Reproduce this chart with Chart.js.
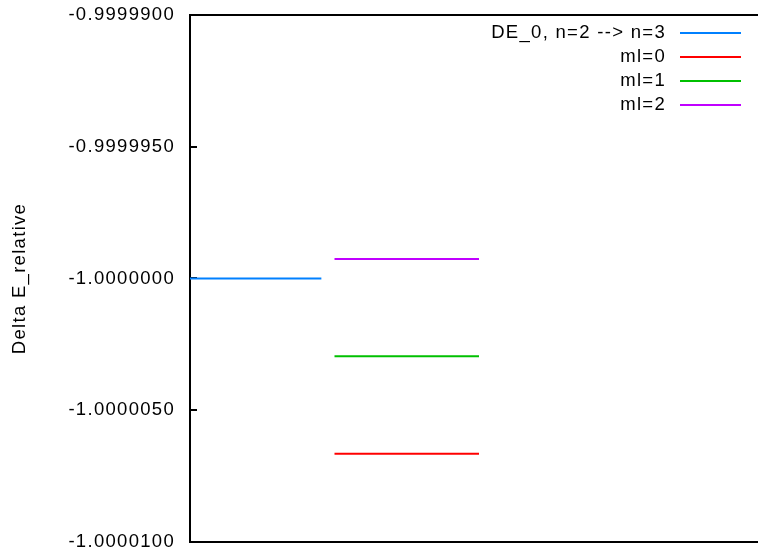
<!DOCTYPE html>
<html lang="en">
<head>
    <meta charset="UTF-8">
    <title>Delta E relative</title>
    <script src="https://cdn.jsdelivr.net/npm/chart.js"></script>
    <style>
        body { margin: 0; background: #fff; }
        #wrap { width: 758px; height: 555px; overflow: hidden; }
    </style>
</head>
<body>
    <div id="wrap">
        <canvas id="levels" width="770" height="555"></canvas>
    </div>

    <script>
        // tick values on the y axis
        var yTicks = [-1.00001, -1.000005, -1.0, -0.999995, -0.99999];

        // series: name, x span, level value
        var seriesNames = ['DE_0, n=2 --> n=3', 'ml=0', 'ml=1', 'ml=2'];
        var seriesStart = [0, 1.1, 1.1, 1.1];
        var seriesEnd = [1, 2.2, 2.2, 2.2];
        var seriesLevel = [-1.0, -1.00000665, -1.00000295, -0.99999926];
        var seriesColors = ['#0080ff', '#ff0000', '#00c000', '#c000ff'];

        var FONT = 'Liberation Sans';
        var SPACING = '1.3px';

        var datasets = seriesNames.map(function(name, i) {
            return {
                label: name,
                data: [
                    { x: seriesStart[i], y: seriesLevel[i] },
                    { x: seriesEnd[i], y: seriesLevel[i] }
                ],
                borderColor: seriesColors[i],
                borderWidth: 2,
                pointRadius: 0,
                tension: 0
            };
        });

        // canvas letter spacing, gnuplot text looks wider than plain Arial
        var spacingPlugin = {
            id: 'spacing',
            beforeUpdate: function(chart) { chart.ctx.letterSpacing = SPACING; },
            beforeLayout: function(chart) { chart.ctx.letterSpacing = SPACING; },
            beforeDraw: function(chart) { chart.ctx.letterSpacing = SPACING; }
        };

        // key in the top right corner, text right aligned, sample line after it
        var keyPlugin = {
            id: 'key',
            afterDraw: function(chart) {
                var ctx = chart.ctx;
                ctx.save();
                ctx.font = '18.5px "' + FONT + '"';
                ctx.letterSpacing = SPACING;
                ctx.textAlign = 'right';
                ctx.textBaseline = 'middle';
                chart.data.datasets.forEach(function(ds, i) {
                    var y = 33 + i * 24;
                    ctx.fillStyle = '#000';
                    ctx.fillText(ds.label, 666, y);
                    ctx.beginPath();
                    ctx.moveTo(680, y);
                    ctx.lineTo(741, y);
                    ctx.lineWidth = 2;
                    ctx.strokeStyle = ds.borderColor;
                    ctx.stroke();
                });
                ctx.restore();
            }
        };

        var ctx = document.getElementById('levels').getContext('2d');
        var chart = new Chart(ctx, {
            type: 'line',
            data: { datasets: datasets },
            options: {
                responsive: false,
                animation: false,
                layout: { padding: { left: 0, top: 15, right: 2, bottom: 13 } },
                plugins: {
                    legend: { display: false },
                    tooltip: { enabled: false }
                },
                scales: {
                    x: {
                        type: 'linear',
                        min: 0,
                        max: 4.4,
                        ticks: { display: false },
                        grid: { display: false, drawTicks: false },
                        border: { display: true, color: '#000', width: 2 }
                    },
                    x2: {
                        type: 'linear',
                        position: 'top',
                        min: 0,
                        max: 4.4,
                        ticks: { display: false },
                        grid: { display: false, drawTicks: false },
                        border: { display: true, color: '#000', width: 2 }
                    },
                    y: {
                        type: 'linear',
                        min: yTicks[0],
                        max: yTicks[yTicks.length - 1],
                        afterBuildTicks: function(scale) {
                            scale.ticks = yTicks.map(function(v) { return { value: v }; });
                        },
                        afterFit: function(scale) {
                            scale.width = 190;
                            scale.paddingTop = 0;
                            scale.paddingBottom = 0;
                        },
                        ticks: {
                            color: '#000',
                            padding: 22,
                            font: { family: FONT, size: 18.5 },
                            callback: function(v) { return Number(v).toFixed(7); }
                        },
                        grid: {
                            drawOnChartArea: false,
                            drawTicks: true,
                            tickLength: -7,
                            tickWidth: 2,
                            tickColor: '#000',
                            color: '#000',
                            lineWidth: 2
                        },
                        border: { display: true, color: '#000', width: 2 },
                        title: {
                            display: true,
                            text: 'Delta E_relative',
                            color: '#000',
                            font: { family: FONT, size: 18.5 },
                            padding: { top: 9, bottom: 0 }
                        }
                    }
                }
            },
            plugins: [spacingPlugin, keyPlugin]
        });
    </script>
</body>
</html>
